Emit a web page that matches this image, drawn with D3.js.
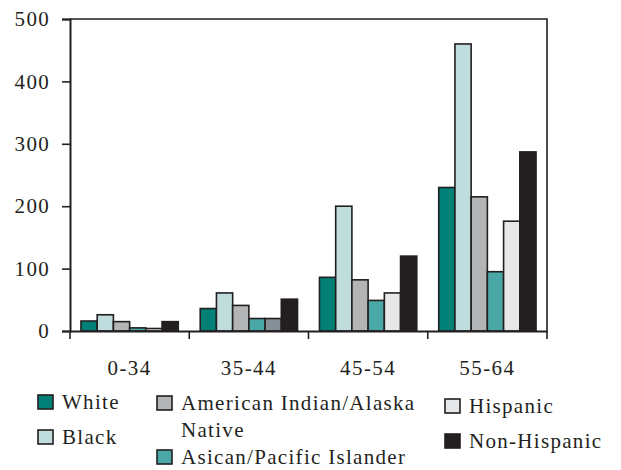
<!DOCTYPE html>
<html>
<head>
<meta charset="utf-8">
<script src="https://cdn.jsdelivr.net/npm/d3@7"></script>
<style>
  body { margin: 0; background: #fff; }
</style>
</head>
<body>
<svg id="chart" width="621" height="470"></svg>
<script>
const categories = ["0-34", "35-44", "45-54", "55-64"];
const seriesNames = ["White", "Black", "American Indian/Alaska Native", "Asican/Pacific Islander", "Hispanic", "Non-Hispanic"];
const white = [16, 36, 86, 230];
const black = [26, 61, 200, 460];
const amIndian = [15, 41, 82, 215];
const asian = [5, 20, 49, 95];
const hispanic = [4, 20, 61, 176];
const nonHispanic = [15, 51, 120, 287];
const yTicks = [0, 100, 200, 300, 400, 500];

(function () {
const seriesValues = [white, black, amIndian, asian, hispanic, nonHispanic];
const colors = ["#008077", "#bfdddd", "#b3b4b6", "#4aa8a6", "#e6e7e8", "#231f20"];
const dark = "#231f20";
const FONT = '"Liberation Serif"';

const svg = d3.select("#chart");
const pLeft = 70, pRight = 547, pTop = 19, pBottom = 331;

const x = d3.scaleBand().domain(categories).range([pLeft, pRight]).paddingInner(0.184).paddingOuter(0.092);
const xs = d3.scaleBand().domain(d3.range(seriesNames.length)).range([0, x.bandwidth()]).padding(0);
const y = d3.scaleLinear().domain([0, 500]).range([pBottom, pTop]);

// bars
const data = [];
categories.forEach((c, ci) => {
  seriesValues.forEach((vals, si) => data.push({ c, ci, si, v: vals[ci] }));
});
svg.append("g").selectAll("rect").data(data).join("rect")
  .attr("x", d => x(d.c) + xs(d.si))
  .attr("y", d => y(d.v))
  .attr("width", xs.bandwidth())
  .attr("height", d => y(0) - y(d.v))
  .attr("fill", d => (d.ci === 1 && d.si === 4) ? "#878f96" : colors[d.si])
  .attr("stroke", dark)
  .attr("stroke-width", 1.6);

// plot box (top and right)
svg.append("path")
  .attr("d", `M${pLeft},${pTop}H${pRight}V${pBottom}`)
  .attr("fill", "none").attr("stroke", dark).attr("stroke-width", 1.6);

// y axis
const yAxis = d3.axisLeft(y).tickValues(yTicks).tickSize(8).tickPadding(12).tickFormat(d3.format("d"));
const gy = svg.append("g").attr("transform", `translate(${pLeft},0)`).call(yAxis);
gy.select(".domain").attr("stroke", dark).attr("stroke-width", 2);
gy.selectAll(".tick line").attr("stroke", dark).attr("stroke-width", 1.6);
gy.selectAll(".tick text")
  .style("font-family", FONT).style("font-size", "21px").style("letter-spacing", "1.3px")
  .attr("fill", dark);

// x axis
const xAxis = d3.axisBottom(x).tickSize(0).tickPadding(29);
const gx = svg.append("g").attr("transform", `translate(0,${pBottom})`).call(xAxis);
gx.select(".domain").attr("stroke", dark).attr("stroke-width", 2);
gx.selectAll(".tick text")
  .style("font-family", FONT).style("font-size", "21px").style("letter-spacing", "1.5px")
  .attr("fill", dark);
// x boundary ticks
const step = x.step();
svg.append("g").selectAll("line").data(d3.range(categories.length + 1)).join("line")
  .attr("x1", i => pLeft + i * step).attr("x2", i => pLeft + i * step)
  .attr("y1", pBottom).attr("y2", pBottom + 8)
  .attr("stroke", dark).attr("stroke-width", 1.6);

// legend
const legendItems = [
  { si: 0, x: 38, y: 395, lines: ["White"] },
  { si: 1, x: 38, y: 430, lines: ["Black"] },
  { si: 2, x: 157, y: 396, lines: ["American Indian/Alaska", "Native"] },
  { si: 3, x: 157, y: 450, lines: ["Asican/Pacific Islander"] },
  { si: 4, x: 445, y: 399, lines: ["Hispanic"] },
  { si: 5, x: 445, y: 434, lines: ["Non-Hispanic"] }
];
const lg = svg.append("g");
legendItems.forEach(it => {
  lg.append("rect").attr("x", it.x).attr("y", it.y).attr("width", 15).attr("height", 14)
    .attr("fill", colors[it.si]).attr("stroke", dark).attr("stroke-width", 1.6);
  it.lines.forEach((t, k) => {
    lg.append("text").attr("x", it.x + 24).attr("y", it.y + 14 + k * 27)
      .style("font-family", FONT).style("font-size", "21px").style("letter-spacing", "1.3px")
      .attr("fill", dark).text(t);
  });
});
})();
</script>
</body>
</html>
